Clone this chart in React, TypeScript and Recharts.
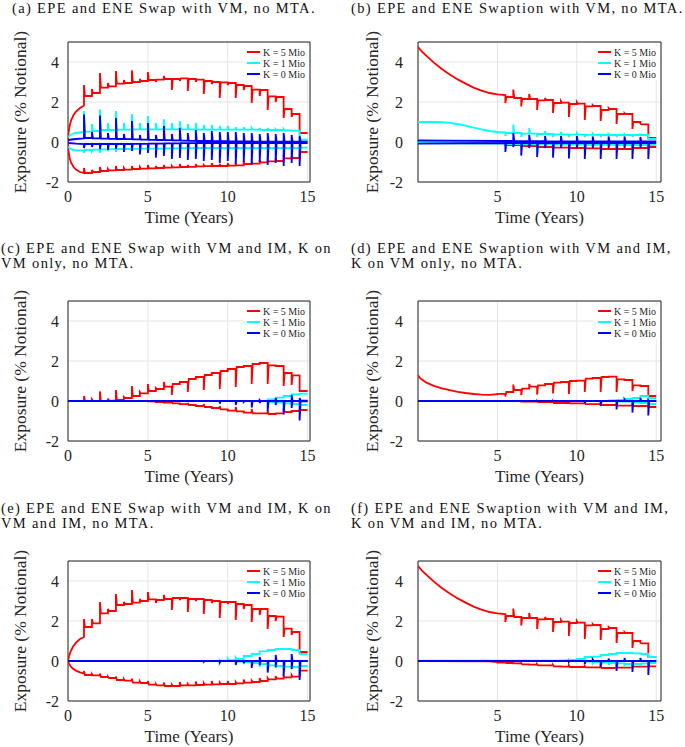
import { LineChart, Line, XAxis, YAxis, CartesianGrid, ReferenceArea } from 'recharts';

// [time, level after time, optional spike value at time]
type Step = [number, number, number?];
interface Path {
  curve?: number[][];
  steps: Step[];
}

const T_END = 15;
const SPIKE_W = 0.06; // spikes decay back to the level over a few days
const Y_TICKS = [-2, 0, 2, 4];
const X_TICKS_SWAP = [0, 5, 10, 15];
const X_TICKS_SWAPTION = [5, 10, 15];
const LEGEND_LABELS = ['K = 5 Mio', 'K = 1 Mio', 'K = 0 Mio'];
const K_COLORS = ['#ff0000', '#00ffff', '#0000ff'];

// ---- (a) swap, VM, no MTA
const A_K5_EPE: Path = {
  curve: [[0, 0], [0.03, 0.45], [0.1, 0.8], [0.2, 1.1], [0.35, 1.35], [0.5, 1.52], [0.75, 1.7], [1, 1.83]],
  steps: [[1, 2.3, 2.85], [1.5, 2.45, 2.65], [2, 2.72, 3.45], [2.5, 2.78, 2.95], [3, 2.92, 3.55], [3.5, 2.95, 3.1], [4, 3.0, 3.58], [4.5, 3.05, 3.15], [5, 3.1, 3.5], [5.5, 3.12, 3.0], [6, 3.15, 3.3], [6.5, 3.15, 2.6], [7, 3.18, 3.05], [7.5, 3.15, 2.55], [8, 3.12, 3.0], [8.5, 3.05, 2.4], [9, 3.0, 2.9], [9.5, 2.98, 2.2], [10, 2.95, 2.85], [10.5, 2.85, 2.2], [11, 2.8, 2.6], [11.5, 2.62, 1.95], [12, 2.6, 2.3], [12.5, 2.28, 1.6], [13, 2.25, 2.0], [13.5, 1.65, 1.2], [14, 1.4, 1.25], [14.5, 0.45]],
};
const A_K5_ENE: Path = {
  curve: [[0, 0], [0.03, -0.45], [0.1, -0.8], [0.2, -1.05], [0.35, -1.25], [0.5, -1.38], [0.75, -1.5], [1, -1.55]],
  steps: [[1, -1.55, -1.3], [1.5, -1.5, -1.4], [2, -1.45, -1.25], [2.5, -1.42, -1.35], [3, -1.4, -1.2], [3.5, -1.38, -1.3], [4, -1.35, -1.2], [4.5, -1.33, -1.25], [5, -1.32, -1.15], [5.5, -1.3, -1.2], [6, -1.28, -1.15], [6.5, -1.27, -1.2], [7, -1.25, -1.1], [7.5, -1.24, -1.15], [8, -1.22, -1.1], [8.5, -1.21, -1.15], [9, -1.2, -1.05], [9.5, -1.2, -1.1], [10, -1.18, -1.05], [10.5, -1.17, -1.1], [11, -1.1, -0.95], [11.5, -1.08, -1.0], [12, -1.02, -0.9], [12.5, -0.97, -0.9], [13, -0.95, -0.8], [13.5, -0.82, -0.75], [14, -0.8, -0.7], [14.5, -0.5]],
};
const A_K1_EPE: Path = {
  curve: [[0, 0.25], [0.25, 0.4], [0.5, 0.45], [1, 0.5]],
  steps: [[1, 0.52, 1.55], [1.5, 0.55, 0.9], [2, 0.6, 1.62], [2.5, 0.6, 0.95], [3, 0.62, 1.55], [3.5, 0.62, 0.95], [4, 0.63, 1.4], [4.5, 0.63, 0.95], [5, 0.63, 1.3], [5.5, 0.63, 0.95], [6, 0.63, 1.15], [6.5, 0.63, 0.95], [7, 0.63, 1.05], [7.5, 0.63, 0.9], [8, 0.62, 0.95], [8.5, 0.62, 0.85], [9, 0.62, 0.85], [9.5, 0.62, 0.8], [10, 0.62, 0.8], [10.5, 0.62, 0.75], [11, 0.62, 0.75], [11.5, 0.62, 0.7], [12, 0.6, 0.7], [12.5, 0.6, 0.7], [13, 0.6, 0.65], [13.5, 0.58, 0.65], [14, 0.57], [14.5, 0.12]],
};
const A_K1_ENE: Path = {
  curve: [[0, -0.25], [0.25, -0.38], [0.5, -0.42], [1, -0.42]],
  steps: [[1, -0.4, -0.55], [1.5, -0.38, -0.45], [2, -0.37, -0.55], [2.5, -0.36, -0.45], [3, -0.35, -0.5], [3.5, -0.35], [4, -0.34, -0.45], [4.5, -0.33], [5, -0.33, -0.45], [6, -0.32, -0.4], [7, -0.31, -0.4], [8, -0.3, -0.38], [9, -0.3, -0.35], [10, -0.3, -0.35], [11, -0.3, -0.35], [12, -0.3, -0.35], [13, -0.3, -0.33], [14, -0.3], [14.5, -0.28]],
};
const A_K0_EPE: Path = {
  curve: [[0, 0.1], [0.5, 0.15], [1, 0.18]],
  steps: [[1, 0.2, 1.37], [1.5, 0.18, 0.5], [2, 0.17, 1.32], [2.5, 0.16, 0.45], [3, 0.15, 1.2], [3.5, 0.14, 0.4], [4, 0.13, 1.05], [4.5, 0.12, 0.35], [5, 0.11, 0.95], [5.5, 0.1, 0.35], [6, 0.09, 0.8], [6.5, 0.08, 0.4], [7, 0.07, 0.7], [7.5, 0.06, 0.45], [8, 0.05, 0.6], [8.5, 0.05, 0.45], [9, 0.04, 0.55], [9.5, 0.04, 0.5], [10, 0.03, 0.5], [10.5, 0.03, 0.5], [11, 0.03, 0.45], [11.5, 0.02, 0.45], [12, 0.02, 0.4], [12.5, 0.02, 0.45], [13, 0.02, 0.4], [13.5, 0.02, 0.45], [14, 0.02, 0.35], [14.5, 0.02, 0.3]],
};
const A_K0_ENE: Path = {
  curve: [[0, -0.05], [0.5, -0.08], [1, -0.1]],
  steps: [[1, -0.1, -0.3], [1.5, -0.1, -0.25], [2, -0.1, -0.35], [2.5, -0.1, -0.4], [3, -0.1, -0.35], [3.5, -0.1, -0.5], [4, -0.09, -0.45], [4.5, -0.09, -0.62], [5, -0.08, -0.55], [5.5, -0.08, -0.78], [6, -0.07, -0.7], [6.5, -0.07, -0.85], [7, -0.06, -0.8], [7.5, -0.06, -0.9], [8, -0.05, -0.85], [8.5, -0.05, -0.95], [9, -0.05, -0.9], [9.5, -0.05, -1.05], [10, -0.05, -0.95], [10.5, -0.05, -1.1], [11, -0.05, -1.0], [11.5, -0.05, -1.12], [12, -0.05, -1.0], [12.5, -0.05, -1.15], [13, -0.05, -1.05], [13.5, -0.05, -1.2], [14, -0.05, -1.05], [14.5, -0.05, -1.2]],
};

// ---- (b) swaption, VM, no MTA
const B_K5_EPE: Path = {
  curve: [[0, 4.75], [0.25, 4.52], [0.5, 4.33], [1, 3.97], [1.5, 3.65], [2, 3.37], [2.5, 3.13], [3, 2.92], [3.5, 2.72], [4, 2.57], [4.5, 2.45], [5, 2.38], [5.5, 2.35]],
  steps: [[5.5, 2.25, 1.95], [6, 2.2, 2.62], [6.5, 2.15, 1.78], [7, 2.15, 2.4], [7.5, 2.08, 1.6], [8, 2.1, 2.2], [8.5, 1.95, 1.45], [9, 1.97, 2.05], [9.5, 1.9, 1.25], [10, 1.92, 2.0], [10.5, 1.78, 1.1], [11, 1.8, 1.85], [11.5, 1.6, 1.05], [12, 1.65, 1.7], [12.5, 1.4, 0.9], [13, 1.4, 1.45], [13.5, 1.0, 0.65], [14, 0.88, 0.92], [14.5, 0.2]],
};
const B_K5_ENE: Path = {
  curve: [[0, -0.02], [5.5, -0.05]],
  steps: [[5.5, -0.15], [6.5, -0.2, -0.1], [7.5, -0.25, -0.15], [8.5, -0.28, -0.2], [9.5, -0.3, -0.2], [10.5, -0.32, -0.2], [11.5, -0.35, -0.25], [12.5, -0.35, -0.25], [13.5, -0.3, -0.2], [14.5, -0.25]],
};
const B_K1_EPE: Path = {
  curve: [[0, 1.0], [0.5, 1.0], [1, 1.0], [1.5, 0.99], [2, 0.96], [2.5, 0.9], [3, 0.82], [3.5, 0.72], [4, 0.63], [4.5, 0.55], [5, 0.5], [5.5, 0.48]],
  steps: [[5.5, 0.45, 0.3], [6, 0.45, 0.88], [6.5, 0.42, 0.25], [7, 0.42, 0.7], [7.5, 0.4, 0.25], [8, 0.4, 0.55], [8.5, 0.38, 0.25], [9, 0.38, 0.5], [9.5, 0.37, 0.25], [10, 0.37, 0.45], [10.5, 0.36, 0.25], [11, 0.36, 0.42], [11.5, 0.35, 0.25], [12, 0.35, 0.4], [12.5, 0.35, 0.25], [13, 0.35, 0.4], [13.5, 0.35, 0.25], [14, 0.35, 0.38], [14.5, 0.15]],
};
const B_K1_ENE: Path = {
  curve: [[0, -0.05], [5.5, -0.08]],
  steps: [[5.5, -0.1], [6.5, -0.12, -0.2], [7.5, -0.12, -0.2], [8.5, -0.13, -0.2], [9.5, -0.13, -0.2], [10.5, -0.14, -0.2], [11.5, -0.14, -0.22], [12.5, -0.15, -0.22], [13.5, -0.15, -0.22], [14.5, -0.15]],
};
const B_K0_EPE: Path = {
  curve: [[0, 0.08], [2, 0.07], [5.5, 0.05]],
  steps: [[5.5, 0.05], [6, 0.04, 0.45], [7, 0.04, 0.35], [8, 0.03, 0.3], [9, 0.03, 0.3], [10, 0.03, 0.3], [11, 0.03, 0.28], [12, 0.03, 0.28], [13, 0.03, 0.28], [14, 0.03, 0.25]],
};
const B_K0_ENE: Path = {
  curve: [[0, -0.08], [5.5, -0.05]],
  steps: [[5.5, -0.05, -0.5], [6, -0.05, -0.25], [6.5, -0.05, -0.68], [7, -0.05, -0.3], [7.5, -0.05, -0.75], [8, -0.05, -0.3], [8.5, -0.05, -0.78], [9, -0.05, -0.3], [9.5, -0.05, -0.82], [10, -0.05, -0.3], [10.5, -0.05, -0.85], [11, -0.05, -0.3], [11.5, -0.05, -0.85], [12, -0.05, -0.3], [12.5, -0.05, -0.85], [13, -0.05, -0.3], [13.5, -0.05, -0.85], [14, -0.05, -0.3], [14.5, -0.05, -0.85]],
};

// ---- (c) swap, VM and IM, K on VM only
const C_K5_EPE: Path = {
  steps: [[0, 0], [1, 0, 0.25], [1.5, 0, 0.08], [2, 0, 0.48], [2.5, 0.02, 0.12], [3, 0.05, 0.55], [3.5, 0.15, 0.2], [4, 0.25, 0.75], [4.5, 0.38, 0.45], [5, 0.5, 0.85], [5.5, 0.6, 0.65], [6, 0.72, 0.95], [6.5, 0.85, 0.3], [7, 0.95], [7.5, 1.1, 0.45], [8, 1.2], [8.5, 1.3, 0.55], [9, 1.4], [9.5, 1.5, 0.6], [10, 1.6], [10.5, 1.7, 0.7], [11, 1.75], [11.5, 1.85, 0.85], [12, 1.9], [12.5, 1.78, 0.85], [13, 1.75], [13.5, 1.4, 0.75], [14, 1.28, 0.8], [14.5, 0.5]],
};
const C_K5_ENE: Path = {
  steps: [[0, 0], [5, -0.02], [5.5, -0.05], [6, -0.08], [6.5, -0.12, -0.02], [7, -0.16], [7.5, -0.2, -0.1], [8, -0.25], [8.5, -0.3, -0.15], [9, -0.35], [9.5, -0.42, -0.25], [10, -0.48], [10.5, -0.52, -0.3], [11, -0.58], [11.5, -0.62, -0.4], [12, -0.62], [12.5, -0.65, -0.45], [13, -0.62], [13.5, -0.55, -0.35], [14, -0.5], [14.5, -0.45]],
};
const C_K1_EPE: Path = {
  steps: [[0, 0], [12.5, 0.08], [13, 0.17], [13.5, 0.25], [14, 0.33], [14.5, 0.37]],
};
const C_K1_ENE: Path = {
  steps: [[0, 0], [12.5, -0.05], [13, -0.08], [13.5, -0.12], [14, -0.15], [14.5, -0.2]],
};
const C_K0_EPE: Path = {
  steps: [[0, 0], [12, 0, 0.05], [13, 0, 0.15], [14, 0, 0.3], [14.5, 0.02, 0.15]],
};
const C_K0_ENE: Path = {
  steps: [[0, 0], [9.5, 0, -0.13], [10.5, 0, -0.2], [11, 0, -0.05], [11.5, 0, -0.33], [12, 0, -0.1], [12.5, 0, -0.47], [13, 0, -0.2], [13.5, 0, -0.67], [14, 0, -0.35], [14.5, -0.02, -0.97]],
};

// ---- (d) swaption, VM and IM, K on VM only
const D_K5_EPE: Path = {
  curve: [[0, 1.3], [0.1, 1.17], [0.25, 1.07], [0.5, 0.93], [1, 0.76], [1.5, 0.63], [2, 0.54], [2.5, 0.46], [3, 0.4], [3.5, 0.35], [4, 0.32], [4.5, 0.31], [5, 0.34]],
  steps: [[5, 0.36], [5.5, 0.45, 0.22], [6, 0.55, 0.82], [6.5, 0.62, 0.3], [7, 0.72, 0.85], [7.5, 0.78, 0.32], [8, 0.85], [8.5, 0.92, 0.38], [9, 0.95], [9.5, 1.0, 0.35], [10, 1.02], [10.5, 1.12, 0.45], [11, 1.15], [11.5, 1.2, 0.45], [12, 1.22], [12.5, 1.08, 0.45], [13, 1.05], [13.5, 0.78, 0.5], [14, 0.75], [14.5, 0.25]],
};
const D_K5_ENE: Path = {
  steps: [[0, 0], [6.5, -0.03], [7.5, -0.06, 0], [8.5, -0.1, -0.02], [9.5, -0.12, -0.02], [10.5, -0.16, -0.05], [11.5, -0.2, -0.08], [12.5, -0.23, -0.1], [13.5, -0.25, -0.12], [14.5, -0.3]],
};
const D_K1_EPE: Path = {
  steps: [[0, 0], [12, 0.03], [12.5, 0.06], [13, 0.1], [13.5, 0.15], [14, 0.25], [14.5, 0.15]],
};
const D_K1_ENE: Path = {
  steps: [[0, 0], [12.5, -0.03], [13.5, -0.08], [14, -0.1], [14.5, -0.15]],
};
const D_K0_EPE: Path = {
  steps: [[0, 0], [13, 0, 0.08], [14, 0, 0.15], [14.5, 0, 0.05]],
};
const D_K0_ENE: Path = {
  steps: [[0, 0], [10.5, 0, -0.12], [11.5, 0, -0.25], [12.5, 0, -0.42], [13.5, 0, -0.58], [14.5, 0, -0.72]],
};

// ---- (e) swap, VM and IM, K on VM and IM
const E_K5_EPE: Path = {
  curve: [[0, 0], [0.05, 0.2], [0.15, 0.45], [0.3, 0.7], [0.5, 0.92], [0.75, 1.1], [1, 1.2]],
  steps: [[1, 1.7, 2.1], [1.5, 1.88, 2.1], [2, 2.38, 2.95], [2.5, 2.5, 2.6], [3, 2.8, 3.35], [3.5, 2.85, 2.95], [4, 2.92, 3.55], [4.5, 3.0, 3.1], [5, 3.08, 3.45], [5.5, 3.05, 2.9], [6, 3.1, 3.3], [6.5, 3.15, 2.55], [7, 3.15, 3.05], [7.5, 3.1, 2.45], [8, 3.1, 3.0], [8.5, 3.05, 2.35], [9, 3.0, 2.9], [9.5, 2.95, 2.15], [10, 2.95, 2.85], [10.5, 2.85, 2.05], [11, 2.8, 2.6], [11.5, 2.6, 1.95], [12, 2.6, 2.3], [12.5, 2.25, 1.6], [13, 2.22, 2.0], [13.5, 1.62, 1.2], [14, 1.45, 1.3], [14.5, 0.45]],
};
const E_K5_ENE: Path = {
  curve: [[0, 0], [0.05, -0.12], [0.15, -0.25], [0.3, -0.38], [0.5, -0.48], [0.75, -0.57], [1, -0.63]],
  steps: [[1, -0.7, -0.5], [1.5, -0.72, -0.65], [2, -0.8, -0.62], [2.5, -0.85, -0.78], [3, -0.95, -0.78], [3.5, -0.98, -0.9], [4, -1.08, -0.88], [4.5, -1.1, -1.02], [5, -1.18, -1.0], [5.5, -1.22, -1.15], [6, -1.25, -1.08], [6.5, -1.25, -1.18], [7, -1.22, -1.05], [7.5, -1.22, -1.15], [8, -1.2, -1.02], [8.5, -1.18, -1.1], [9, -1.17, -1.0], [9.5, -1.15, -1.08], [10, -1.15, -1.0], [10.5, -1.12, -1.05], [11, -1.08, -0.92], [11.5, -1.05, -0.98], [12, -1.0, -0.85], [12.5, -0.92, -0.85], [13, -0.88, -0.75], [13.5, -0.82, -0.75], [14, -0.78, -0.7], [14.5, -0.48]],
};
const E_K1_EPE: Path = {
  steps: [[0, 0], [9.5, 0.02, 0.06], [10, 0.04, 0.12], [10.5, 0.1, 0.18], [11, 0.25], [11.5, 0.35], [12, 0.48], [12.5, 0.55], [13, 0.6], [13.5, 0.6], [14, 0.55], [14.5, 0.35]],
};
const E_K1_ENE: Path = {
  steps: [[0, 0], [10.5, -0.03], [11, -0.06, -0.15], [11.5, -0.1, -0.22], [12, -0.15, -0.3], [12.5, -0.22, -0.5], [13, -0.25, -0.35], [13.5, -0.28, -0.5], [14, -0.3, -0.4], [14.5, -0.25, -0.5]],
};
const E_K0_EPE: Path = {
  steps: [[0, 0], [12, 0, 0.2], [13, 0, 0.3], [14, 0, 0.35], [14.5, 0]],
};
const E_K0_ENE: Path = {
  steps: [[0, 0], [8.5, 0, -0.04], [9.5, 0, -0.08], [10.5, 0, -0.2], [11, 0, -0.1], [11.5, 0, -0.35], [12, 0, -0.2], [12.5, 0, -0.58], [13, 0, -0.3], [13.5, 0, -0.75], [14, 0, -0.4], [14.5, 0, -0.95]],
};

// ---- (f) swaption, VM and IM, K on VM and IM (upper red identical to (b))
const F_K5_EPE: Path = B_K5_EPE;
const F_K5_ENE: Path = {
  curve: [[0, 0], [4.5, -0.02], [5, -0.05]],
  steps: [[5, -0.08], [5.5, -0.1, -0.05], [6, -0.12], [6.5, -0.17, -0.1], [7, -0.18], [7.5, -0.22, -0.15], [8, -0.22], [8.5, -0.27, -0.2], [9, -0.28], [9.5, -0.3, -0.22], [10, -0.3], [10.5, -0.32, -0.25], [11, -0.32], [11.5, -0.35, -0.27], [12, -0.35], [12.5, -0.33, -0.27], [13, -0.33], [13.5, -0.28, -0.22], [14, -0.28], [14.5, -0.27]],
};
const F_K1_EPE: Path = {
  steps: [[0, 0.02], [9, 0.03], [9.5, 0.05, 0.08], [10, 0.1], [10.5, 0.2], [11, 0.22], [11.5, 0.3], [12, 0.35], [12.5, 0.4], [13, 0.4], [13.5, 0.38], [14, 0.35], [14.5, 0.2]],
};
const F_K1_ENE: Path = {
  steps: [[0, 0], [10.5, -0.03], [11, -0.05, -0.12], [11.5, -0.08, -0.2], [12, -0.1, -0.2], [12.5, -0.12, -0.45], [13, -0.15, -0.25], [13.5, -0.15, -0.4], [14, -0.12, -0.25], [14.5, -0.1, -0.35]],
};
const F_K0_EPE: Path = {
  steps: [[0, 0.01], [11, 0, 0.08], [12, 0, 0.12], [13, 0, 0.15], [14, 0, 0.15], [14.5, 0]],
};
const F_K0_ENE: Path = {
  steps: [[0, 0], [9.5, 0, -0.05], [10.5, 0, -0.15], [11.5, 0, -0.3], [12.5, 0, -0.5], [13.5, 0, -0.55], [14.5, 0, -0.7]],
};

const PANELS = [
  { title: ['(a) EPE and ENE Swap with VM, no MTA.'], col: 0, boxTop: 42, titleTop: 1, titleLeft: 12,
    paths: [[A_K5_EPE, A_K5_ENE], [A_K1_EPE, A_K1_ENE], [A_K0_EPE, A_K0_ENE]] },
  { title: ['(b) EPE and ENE Swaption with VM, no MTA.'], col: 1, boxTop: 42, titleTop: 1, titleLeft: 351,
    paths: [[B_K5_EPE, B_K5_ENE], [B_K1_EPE, B_K1_ENE], [B_K0_EPE, B_K0_ENE]] },
  { title: ['(c) EPE and ENE Swap with VM and IM, K on', 'VM only, no MTA.'], col: 0, boxTop: 301, titleTop: 241, titleLeft: 1,
    paths: [[C_K5_EPE, C_K5_ENE], [C_K1_EPE, C_K1_ENE], [C_K0_EPE, C_K0_ENE]] },
  { title: ['(d) EPE and ENE Swaption with VM and IM,', 'K on VM only, no MTA.'], col: 1, boxTop: 301, titleTop: 241, titleLeft: 351,
    paths: [[D_K5_EPE, D_K5_ENE], [D_K1_EPE, D_K1_ENE], [D_K0_EPE, D_K0_ENE]] },
  { title: ['(e) EPE and ENE Swap with VM and IM, K on', 'VM and IM, no MTA.'], col: 0, boxTop: 561, titleTop: 501, titleLeft: 1,
    paths: [[E_K5_EPE, E_K5_ENE], [E_K1_EPE, E_K1_ENE], [E_K0_EPE, E_K0_ENE]] },
  { title: ['(f) EPE and ENE Swaption with VM and IM,', 'K on VM and IM, no MTA.'], col: 1, boxTop: 561, titleTop: 501, titleLeft: 351,
    paths: [[F_K5_EPE, F_K5_ENE], [F_K1_EPE, F_K1_ENE], [F_K0_EPE, F_K0_ENE]] },
];

const FONT = "'Liberation Serif', 'DejaVu Serif', 'Times New Roman', serif";
const AXIS_COLOR = '#262626';

// turn a curve + step list into plot points (vertical segments for jumps and spikes)
const buildPoints = (p: Path) => {
  const pts = (p.curve ?? []).map(([t, v]) => ({ t, v }));
  p.steps.forEach(([t, lvl, spike], i) => {
    const end = i + 1 < p.steps.length ? p.steps[i + 1][0] : T_END;
    if (spike !== undefined) {
      pts.push({ t, v: spike }, { t: t + SPIKE_W, v: lvl });
    } else {
      pts.push({ t, v: lvl });
    }
    pts.push({ t: end, v: lvl });
  });
  return pts;
};

const Panel = ({ cfg }: { cfg: (typeof PANELS)[number] }) => {
  const right = cfg.col === 1;
  const divLeft = right ? 340 : 0;
  const width = right ? 335 : 330;
  const yAxisW = right ? 78 : 68;
  const marginRight = right ? 14 : 20;
  const xMax = right ? 15.3 : 15.15;
  const top = cfg.boxTop - 10;
  const boxLeft = yAxisW;
  const boxRight = width - marginRight;

  return (
    <>
      <div style={{ position: 'absolute', left: cfg.titleLeft, top: cfg.titleTop, fontFamily: FONT, fontSize: 14.5, letterSpacing: 1.35, lineHeight: '15px', color: '#111', whiteSpace: 'nowrap' }}>
        {cfg.title.map((line) => <div key={line}>{line}</div>)}
      </div>
      <div style={{ position: 'absolute', left: divLeft, top }}>
        <LineChart width={width} height={180} margin={{ top: 10, right: marginRight, bottom: 0, left: 0 }}>
          <CartesianGrid stroke="#e4e4e4" strokeWidth={1} />
          <XAxis type="number" dataKey="t" domain={[0, xMax]} ticks={right ? X_TICKS_SWAPTION : X_TICKS_SWAP}
            allowDataOverflow height={30} tickLine={false} axisLine={false} tickSize={0} tickMargin={9}
            tick={{ fill: AXIS_COLOR, fontSize: 16, fontFamily: FONT }} />
          <YAxis type="number" domain={[-2, 5]} ticks={Y_TICKS} width={yAxisW} allowDataOverflow
            tickLine={false} axisLine={false} tickSize={0} tickMargin={right ? 15 : 9}
            tick={{ fill: AXIS_COLOR, fontSize: 16, fontFamily: FONT }} />
          {cfg.paths.map((pair, k) =>
            pair.map((p, j) => (
              <Line key={`${k}-${j}`} data={buildPoints(p)} dataKey="v" type="linear" dot={false}
                stroke={K_COLORS[k]} strokeWidth={1.8} isAnimationActive={false} />
            ))
          )}
          <ReferenceArea x1={0} x2={xMax} y1={-2} y2={5} fill="none" fillOpacity={0} stroke={AXIS_COLOR} strokeWidth={1} />
        </LineChart>
        {/* legend */}
        <div style={{ position: 'absolute', left: boxRight - 66, top: 14, width: 65, height: 34, background: '#fff' }}>
          {LEGEND_LABELS.map((label, k) => (
            <div key={label} style={{ position: 'absolute', left: 3, top: 1 + k * 11, display: 'flex', alignItems: 'center', height: 10 }}>
              <div style={{ width: 13, height: 2, background: K_COLORS[k], marginRight: 3 }} />
              <span style={{ fontFamily: FONT, fontSize: 10, color: AXIS_COLOR, whiteSpace: 'nowrap' }}>{label}</span>
            </div>
          ))}
        </div>
        {/* axis titles */}
        <div style={{ position: 'absolute', left: (boxLeft + boxRight) / 2, top: 10 + 140 + 36, transform: 'translate(-50%, -50%)', fontFamily: FONT, fontSize: 17, color: AXIS_COLOR, whiteSpace: 'nowrap' }}>
          Time (Years)
        </div>
        <div style={{ position: 'absolute', left: right ? 32 : 20, top: 10 + 70, transform: 'translate(-50%, -50%) rotate(-90deg)', fontFamily: FONT, fontSize: 17.5, color: AXIS_COLOR, whiteSpace: 'nowrap' }}>
          Exposure (% Notional)
        </div>
      </div>
    </>
  );
};

export default function App() {
  return (
    <div style={{ position: 'absolute', left: 0, top: 0, width: 685, height: 747, background: '#fff', overflow: 'hidden' }}>
      {PANELS.map((cfg) => <Panel key={cfg.title[0]} cfg={cfg} />)}
    </div>
  );
}
